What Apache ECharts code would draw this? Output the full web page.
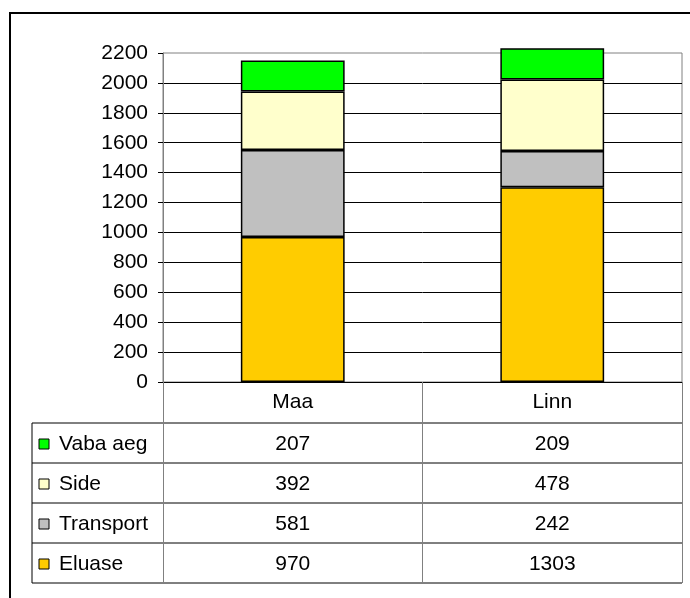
<!DOCTYPE html>
<html>
<head>
    <meta charset="UTF-8">
    <title>Kulud</title>
    <script src="https://cdn.jsdelivr.net/npm/echarts@6/dist/echarts.min.js"></script>
    <style>
        body { margin: 0; background: #fff; }
        #main { width: 690px; height: 598px; }
    </style>
</head>
<body>
<div id="main"></div>
<script type="text/javascript">
    // andmed
    var categories = ['Maa', 'Linn'];
    var eluase = [970, 1303];
    var transport = [581, 242];
    var side = [392, 478];
    var vabaAeg = [207, 209];
    var yTicks = [0, 200, 400, 600, 800, 1000, 1200, 1400, 1600, 1800, 2000, 2200];

    var seriesList = [
        { name: 'Eluase', data: eluase, color: '#FFCC00' },
        { name: 'Transport', data: transport, color: '#C0C0C0' },
        { name: 'Side', data: side, color: '#FFFFCC' },
        { name: 'Vaba aeg', data: vabaAeg, color: '#00FF00' }
    ];

    var FONT = 'Liberation Sans, Arial, sans-serif';
    var FS = 21;
    var myChart = echarts.init(document.getElementById('main'));

    var option = {
        backgroundColor: '#fff',
        animation: false,
        grid: {
            left: 163, right: 8, top: 53, bottom: 216,
            show: true, borderColor: '#808080', borderWidth: 1
        },
        xAxis: {
            type: 'category',
            data: categories,
            axisLine: { lineStyle: { color: '#000', width: 1 } },
            axisTick: { show: true, inside: false, length: 201, lineStyle: { color: '#808080' } },
            axisLabel: { show: false }
        },
        yAxis: {
            type: 'value',
            min: yTicks[0],
            max: yTicks[yTicks.length - 1],
            interval: 200,
            axisLine: { show: true, lineStyle: { color: '#808080' } },
            axisTick: { show: true, length: 5, lineStyle: { color: '#000' } },
            axisLabel: {
                color: '#000', fontSize: FS, fontFamily: FONT, margin: 15,
                formatter: function (v) { return String(v); }
            },
            splitLine: { show: true, showMaxLine: false, lineStyle: { color: '#000', width: 1 } }
        },
        series: seriesList.map(function (s) {
            return {
                name: s.name,
                type: 'bar',
                stack: 'kokku',
                barWidth: '40%',
                clip: false,
                data: s.data,
                itemStyle: { color: s.color, borderColor: '#000', borderWidth: 1.5 }
            };
        })
    };
    myChart.setOption(option);

    // tabel graafika alla
    var rowTop = 423, rowH = 40, tableLeft = 32, tableRight = 682;
    var rows = seriesList.slice().reverse();
    var g = [];
    g.push({
        type: 'rect', shape: { x: 10, y: 13, width: 720, height: 720 },
        style: { fill: 'none', stroke: '#000', lineWidth: 2 }, z: 100
    });
    categories.forEach(function (c, i) {
        var cx = myChart.convertToPixel({ xAxisIndex: 0 }, c);
        g.push({
            type: 'text', x: cx, y: 402,
            style: { text: c, fill: '#000', font: FS + 'px ' + FONT, align: 'center', verticalAlign: 'middle' }
        });
    });
    for (var r = 0; r <= rows.length; r++) {
        var y = rowTop + r * rowH;
        g.push({
            type: 'line', shape: { x1: tableLeft, y1: y, x2: tableRight, y2: y },
            style: { stroke: '#000', lineWidth: 1 }
        });
    }
    g.push({
        type: 'line', shape: { x1: tableLeft, y1: rowTop, x2: tableLeft, y2: rowTop + rows.length * rowH },
        style: { stroke: '#000', lineWidth: 1 }
    });
    rows.forEach(function (s, r) {
        var cy = rowTop + r * rowH + rowH / 2 + 1;
        g.push({
            type: 'rect', shape: { x: 39, y: cy - 5, width: 10, height: 10 },
            style: { fill: s.color, stroke: '#000', lineWidth: 1 }
        });
        g.push({
            type: 'text', x: 59, y: cy,
            style: { text: s.name, fill: '#000', font: FS + 'px ' + FONT, align: 'left', verticalAlign: 'middle' }
        });
        s.data.forEach(function (v, i) {
            var cx = myChart.convertToPixel({ xAxisIndex: 0 }, categories[i]);
            g.push({
                type: 'text', x: cx, y: cy,
                style: { text: String(v), fill: '#000', font: FS + 'px ' + FONT, align: 'center', verticalAlign: 'middle' }
            });
        });
    });
    myChart.setOption({ graphic: g });
</script>
</body>
</html>
